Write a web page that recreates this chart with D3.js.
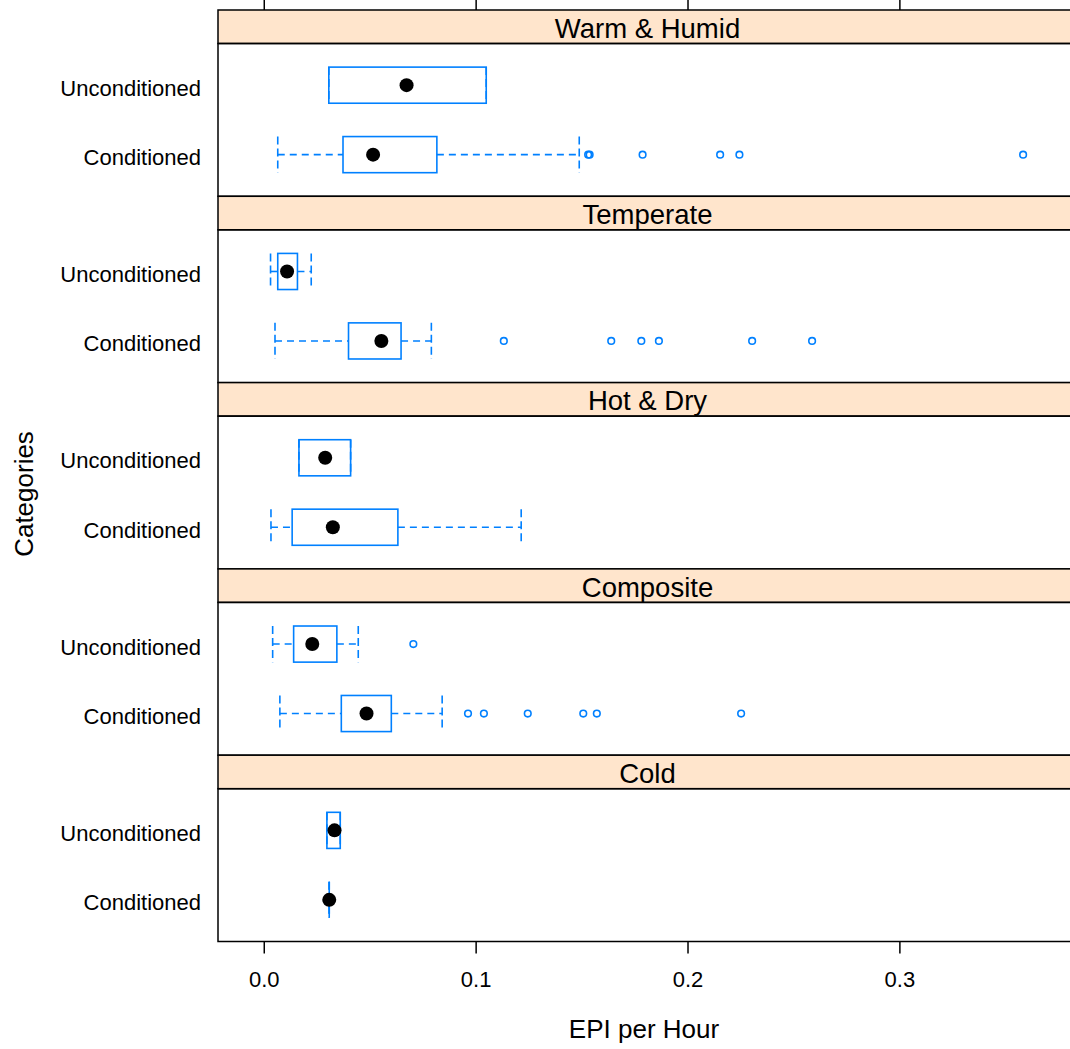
<!DOCTYPE html>
<html>
<head>
<meta charset="utf-8">
<script src="https://cdn.jsdelivr.net/npm/d3@7"></script>
<style>
  html, body { margin: 0; padding: 0; background: #fff; }
  svg { display: block; }
  text { font-family: "Liberation Sans", Arial, Helvetica, sans-serif; fill: #000; }
</style>
</head>
<body>
<svg id="chart" width="1070" height="1049"></svg>
<script>
// Climate zones, top panel first
const zones = ["Warm & Humid", "Temperate", "Hot & Dry", "Composite", "Cold"];
// Categories on the y axis, bottom to top within each panel
const categories = ["Conditioned", "Unconditioned"];
const xTicks = [0.0, 0.1, 0.2, 0.3];

// Five-number summaries [lower whisker, lower hinge, median, upper hinge, upper whisker] per zone
const conditionedStats = [
  [0.0066, 0.0374, 0.0516, 0.0817, 0.1489],
  [0.0053, 0.0400, 0.0555, 0.0648, 0.0791],
  [0.0034, 0.0134, 0.0326, 0.0633, 0.1215],
  [0.0076, 0.0366, 0.0485, 0.0602, 0.0842],
  [0.0309, 0.0309, 0.0309, 0.0309, 0.0309]
];
const unconditionedStats = [
  [0.0307, 0.0307, 0.0674, 0.1050, 0.1050],
  [0.0032, 0.0066, 0.0110, 0.0159, 0.0224],
  [0.0166, 0.0166, 0.0290, 0.0410, 0.0410],
  [0.0042, 0.0141, 0.0229, 0.0345, 0.0446],
  [0.0298, 0.0298, 0.0334, 0.0361, 0.0361]
];
// Points beyond the whiskers, per zone
const conditionedOutliers = [
  [0.1531, 0.1538, 0.1788, 0.2154, 0.2245, 0.3584],
  [0.1133, 0.1640, 0.1782, 0.1865, 0.2305, 0.2588],
  [],
  [0.0964, 0.1039, 0.1246, 0.1508, 0.1572, 0.2253],
  []
];
const unconditionedOutliers = [
  [],
  [],
  [],
  [0.0706],
  []
];

const svg = d3.select("#chart");
const plotLeft = 218, plotRight = 1071, plotTop = 10, plotBottom = 941.5;
const stripH = 33.5;
const panelH = (plotBottom - plotTop) / zones.length;
const blue = "#0080ff";

const x = d3.scaleLinear().domain([-0.0216, 0.381]).range([plotLeft, plotRight]);

const plot = svg.append("g");

zones.forEach((zone, i) => {
  const pTop = plotTop + i * panelH;
  const pBottom = pTop + panelH;
  const sBottom = pTop + stripH;
  const y = d3.scaleLinear().domain([0.4, 2.6]).range([pBottom, sBottom]);
  const halfBox = y(0) - y(0.26);

  const g = plot.append("g");

  // strip
  g.append("rect")
    .attr("x", plotLeft).attr("y", pTop)
    .attr("width", plotRight - plotLeft).attr("height", stripH)
    .attr("fill", "#ffe5cc").attr("stroke", "#000").attr("stroke-width", 1.5);
  g.append("text")
    .attr("x", (plotLeft + plotRight) / 2 + 3).attr("y", pTop + stripH / 2 + 11)
    .attr("text-anchor", "middle").attr("font-size", 27.5)
    .text(zone);

  // panel frame
  g.append("rect")
    .attr("x", plotLeft).attr("y", sBottom)
    .attr("width", plotRight - plotLeft).attr("height", pBottom - sBottom)
    .attr("fill", "none").attr("stroke", "#000").attr("stroke-width", 1.5);

  // category labels
  categories.forEach((c, k) => {
    g.append("text")
      .attr("x", 201).attr("y", y(k + 1) + 10.5)
      .attr("text-anchor", "end").attr("font-size", 22)
      .text(c);
  });

  const rows = [
    { level: 1, s: conditionedStats[i], out: conditionedOutliers[i] },
    { level: 2, s: unconditionedStats[i], out: unconditionedOutliers[i] }
  ];

  rows.forEach(r => {
    const [lo, q1, med, q3, hi] = r.s;
    const cy = y(r.level);
    const b = g.append("g").attr("stroke", blue).attr("stroke-width", 1.6).attr("fill", "none");

    // whiskers
    b.append("line")
      .attr("x1", x(lo)).attr("x2", x(q1)).attr("y1", cy).attr("y2", cy)
      .attr("stroke-dasharray", "7,5");
    b.append("line")
      .attr("x1", x(q3)).attr("x2", x(hi)).attr("y1", cy).attr("y2", cy)
      .attr("stroke-dasharray", "7,5");
    [lo, hi].forEach(v => {
      b.append("line")
        .attr("x1", x(v)).attr("x2", x(v))
        .attr("y1", cy - halfBox).attr("y2", cy + halfBox)
        .attr("stroke-dasharray", "8,4");
    });

    // box
    b.append("rect")
      .attr("x", x(q1)).attr("y", cy - halfBox)
      .attr("width", Math.max(0, x(q3) - x(q1))).attr("height", 2 * halfBox);
    if (q3 === q1) {
      b.append("line")
        .attr("x1", x(q1)).attr("x2", x(q1))
        .attr("y1", cy - halfBox).attr("y2", cy + halfBox);
    }

    // outliers
    b.selectAll(null).data(r.out).join("circle")
      .attr("cx", d => x(d)).attr("cy", cy).attr("r", 3.3);

    // median dot
    g.append("circle")
      .attr("cx", x(med)).attr("cy", cy).attr("r", 7)
      .attr("fill", "#000");
  });
});

// axes
const axisBottom = d3.axisBottom(x).tickValues(xTicks).tickSize(12).tickPadding(18)
  .tickFormat(d3.format(".1f"));
const gb = svg.append("g").attr("transform", `translate(0,${plotBottom})`).call(axisBottom);
gb.select(".domain").remove();
gb.selectAll(".tick line").attr("stroke", "#000").attr("stroke-width", 1.5);
gb.selectAll(".tick text").attr("font-size", 22).attr("font-family", null);

const axisTop = d3.axisTop(x).tickValues(xTicks).tickSize(12).tickFormat("");
const gt = svg.append("g").attr("transform", `translate(0,${plotTop})`).call(axisTop);
gt.select(".domain").remove();
gt.selectAll(".tick line").attr("stroke", "#000").attr("stroke-width", 1.5);

// axis titles
svg.append("text")
  .attr("x", 644).attr("y", 1038)
  .attr("text-anchor", "middle").attr("font-size", 26)
  .text("EPI per Hour");
svg.append("text")
  .attr("transform", "translate(33,494) rotate(-90)")
  .attr("text-anchor", "middle").attr("font-size", 26)
  .text("Categories");
</script>
</body>
</html>
